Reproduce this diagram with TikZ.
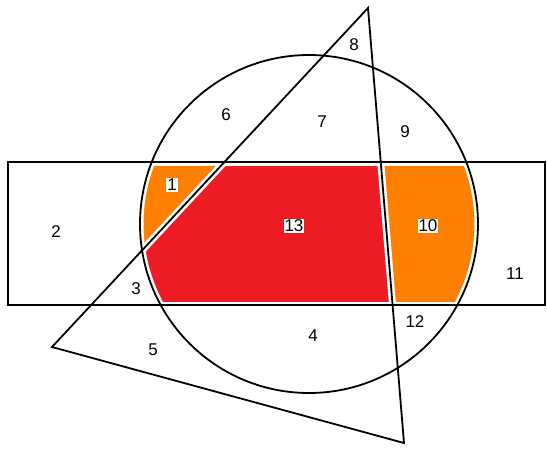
\documentclass[tikz,border=0pt]{standalone}
\usepackage{fontspec}
\setmainfont{Liberation Sans}
\definecolor{regred}{HTML}{ED1C24}
\definecolor{regorange}{HTML}{FF8000}
\begin{document}
\begin{tikzpicture}[x=1pt,y=-1pt,
  lbl/.style={font=\fontsize{17}{17}\selectfont, inner sep=1pt},
  boxlbl/.style={lbl, fill=white},
  edge/.style={draw=black, line width=1.8pt},
  gap/.style={draw=white, line width=7pt}]
\useasboundingbox (0,0) rectangle (547,448);
\coordinate (A) at (368,8);
\coordinate (B) at (52,347);
\coordinate (C) at (404,443);
\coordinate (O) at (309,224);
\coordinate (R1) at (8,162);
\coordinate (R2) at (545,305);
% fills
\begin{scope}
  \clip (R1) rectangle (R2);
  \clip (O) circle (169);
  \fill[regorange] (0,0) rectangle (547,448);
  \fill[regred] (A) -- (B) -- (C) -- cycle;
\end{scope}
% white margins
\draw[gap] (R1) rectangle (R2);
\draw[gap] (O) circle (169);
\draw[gap] (A) -- (B) -- (C) -- cycle;
% outlines
\draw[edge] (R1) rectangle (R2);
\draw[edge] (O) circle (169);
\draw[edge, line join=miter] (A) -- (B) -- (C) -- cycle;
% labels
\node[boxlbl] (n1) at (172,185) {1};
\node[lbl] (n2) at (56,232) {2};
\node[lbl] (n3) at (136,289) {3};
\node[lbl] (n4) at (313,336) {4};
\node[lbl] (n5) at (153,350) {5};
\node[lbl] (n6) at (226,115) {6};
\node[lbl] (n7) at (322,122) {7};
\node[lbl] (n8) at (354,45) {8};
\node[lbl] (n9) at (405,132) {9};
\node[boxlbl] (n10) at (428,226) {10};
\node[lbl] (n11) at (515,274) {11};
\node[lbl] (n12) at (415,322) {12};
\node[boxlbl] (n13) at (294,226) {13};
\end{tikzpicture}
\end{document}
